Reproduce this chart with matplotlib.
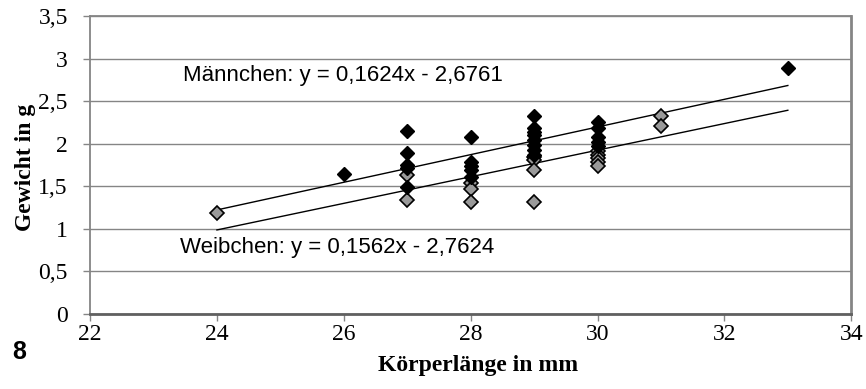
import matplotlib
matplotlib.use("Agg")
import matplotlib.pyplot as plt
from matplotlib.ticker import FuncFormatter, MultipleLocator
import numpy as np

# Data
male_x = [26, 27, 27, 27, 27, 27, 28, 28, 28, 28, 28,
          29, 29, 29, 29, 29, 29, 29, 29, 30, 30, 30, 30, 30, 33]
male_y = [1.64, 2.15, 1.89, 1.75, 1.71, 1.49, 2.08, 1.79, 1.74, 1.69, 1.61,
          2.32, 2.18, 2.14, 2.10, 2.04, 1.99, 1.93, 1.87, 2.25, 2.18, 2.08, 2.02, 1.97, 2.89]
female_x = [24, 27, 27, 28, 28, 28, 29, 29, 29, 29, 30, 30, 30, 30, 30, 31, 31]
female_y = [1.18, 1.63, 1.34, 1.54, 1.47, 1.31, 1.84, 1.81, 1.69, 1.31,
            1.91, 1.87, 1.83, 1.78, 1.74, 2.33, 2.21]
male_fit = (0.1624, -2.6761)
female_fit = (0.1562, -2.7624)
trend_range = [24, 33]
male_label = "Männchen: y = 0,1624x - 2,6761"
female_label = "Weibchen: y = 0,1562x - 2,7624"

fig = plt.figure(figsize=(8.66, 3.89), dpi=100)
ax = fig.add_axes([0.104, 0.193, 0.879, 0.766])

grid_c = "#858585"
ax.set_xlim(22, 34)
ax.set_ylim(0, 3.5)
ax.xaxis.set_major_locator(MultipleLocator(2))
ax.yaxis.set_major_locator(MultipleLocator(0.5))
fmt = FuncFormatter(lambda v, p: ("%g" % v).replace(".", ","))
ax.xaxis.set_major_formatter(fmt)
ax.yaxis.set_major_formatter(fmt)
ax.yaxis.grid(True, color=grid_c, lw=1.0)
ax.set_axisbelow(True)

for s in ["left", "top"]:
    ax.spines[s].set_color(grid_c)
    ax.spines[s].set_linewidth(1.3)
ax.spines["right"].set_color(grid_c)
ax.spines["right"].set_linewidth(2)
ax.spines["bottom"].set_color("#606060")
ax.spines["bottom"].set_linewidth(2)

ax.tick_params(direction="out", length=5, color=grid_c, width=1, labelsize=17)
ax.tick_params(axis="y", pad=11)
ax.tick_params(axis="x", pad=2)
for lab in ax.get_xticklabels() + ax.get_yticklabels():
    lab.set_family("Liberation Serif")

xs = np.array(trend_range, dtype=float)
ax.plot(xs, male_fit[0] * xs + male_fit[1], color="black", lw=1.0, zorder=2)
ax.plot(xs, female_fit[0] * xs + female_fit[1], color="black", lw=1.0, zorder=2)

ax.plot(female_x, female_y, ls="none", marker="D", ms=7, mfc="#9a9a9a",
        mec="black", mew=1.2, zorder=3)
ax.plot(male_x, male_y, ls="none", marker="D", ms=7, mfc="black",
        mec="black", mew=1.0, zorder=4)

ax.text(23.47, 2.795, male_label, fontsize=16, family="Liberation Sans",
        va="center", ha="left")
ax.text(23.42, 0.775, female_label, fontsize=16, family="Liberation Sans",
        va="center", ha="left")

fig.text(478 / 866, 1 - 366 / 389, "Körperlänge in mm", fontsize=17,
         fontweight="bold", family="Liberation Serif", ha="center", va="center")
fig.text(26 / 866, 1 - 167 / 389, "Gewicht in g", fontsize=17,
         fontweight="bold", family="Liberation Serif", ha="center", va="center",
         rotation=90)

fig.text(19 / 866, 1 - 352 / 389, "8", fontsize=18, fontweight="bold",
         family="Liberation Sans", ha="center", va="center")

fig.savefig("out.png", dpi=100)
